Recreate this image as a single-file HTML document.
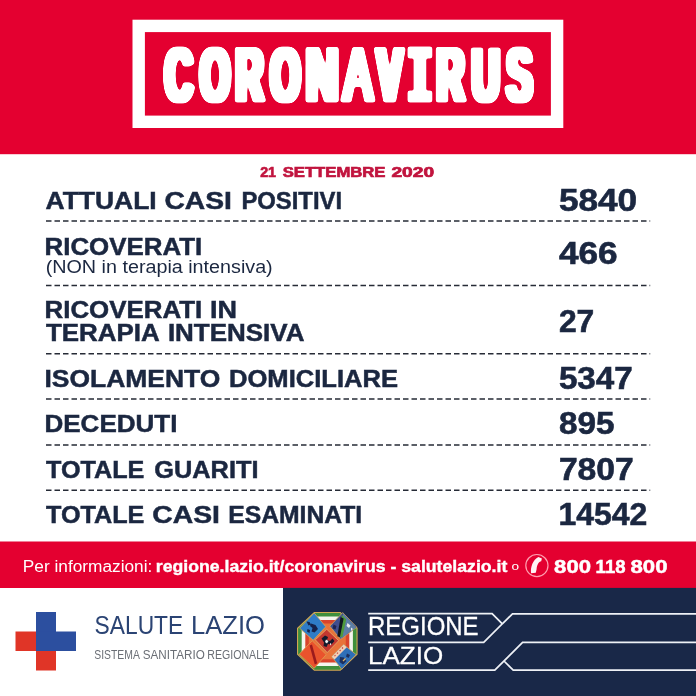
<!DOCTYPE html>
<html lang="it">
<head>
<meta charset="utf-8">
<title>Coronavirus - Regione Lazio - 21 settembre 2020</title>
<style>
html,body{margin:0;padding:0;background:#fff;}
body{width:696px;height:696px;overflow:hidden;position:relative;font-family:"Liberation Sans",sans-serif;}
svg{position:absolute;left:0;top:0;display:block;}
text{font-family:"Liberation Sans",sans-serif;}
.lbl{font-weight:700;fill:#1b2740;font-size:24px;stroke:#1b2740;stroke-width:0.5px;}
.num{font-weight:700;fill:#1b2740;font-size:30.5px;stroke:#1b2740;stroke-width:0.6px;}
.sub{fill:#1b2740;font-size:17.5px;}
.dash{stroke:#262b36;stroke-width:1.5;stroke-dasharray:5.5 3;fill:none;}
.ln{stroke:#eef1f6;stroke-width:1.7;fill:none;stroke-linejoin:miter;}
</style>
</head>
<body>
<svg width="696" height="696" viewBox="0 0 696 696">
  <!-- background -->
  <rect x="0" y="0" width="696" height="696" fill="#ffffff"/>

  <!-- top banner -->
  <defs>
    <filter id="fat" filterUnits="userSpaceOnUse" x="130" y="20" width="440" height="110">
      <feMorphology operator="dilate" radius="3 1" result="d"/>
      <feGaussianBlur in="d" stdDeviation="1.0"/>
      <feComponentTransfer><feFuncA type="linear" slope="5" intercept="-1.2"/></feComponentTransfer>
    </filter>
  </defs>
  <g id="banner">
    <rect x="0" y="0" width="696" height="154.2" fill="#e40030"/>
    <rect x="138.7" y="25.9" width="418.4" height="95.9" fill="none" stroke="#ffffff" stroke-width="12.4"/>
    <g filter="url(#fat)">
      <text transform="scale(0.5,1)" y="101.2" font-size="76.0" font-weight="700" fill="#ffffff" x="330.0 400.5 471.3 541.0 611.8 687.6 754.2 816.2 873.3 944.1 1013.5">CORO<tspan textLength="64.4" lengthAdjust="spacingAndGlyphs">N</tspan><tspan font-weight="400" textLength="56.7" lengthAdjust="spacingAndGlyphs">A</tspan>V<tspan font-family="'Liberation Mono',monospace" font-size="79.4">I</tspan>RUS</text>
    </g>
  </g>

  <!-- date -->
  <text y="177.2" font-size="14.3" font-weight="700" fill="#c1143e" stroke="#c1143e" stroke-width="0.7"><tspan x="260.2" textLength="15.8" lengthAdjust="spacingAndGlyphs">21</tspan> <tspan x="282.7" textLength="102.8" lengthAdjust="spacingAndGlyphs">SETTEMBRE</tspan> <tspan x="391.4" textLength="42.7" lengthAdjust="spacingAndGlyphs">2020</tspan></text>

  <!-- table -->
  <g id="table">
    <text class="lbl" y="208.7"><tspan x="45.6" textLength="111.1" lengthAdjust="spacingAndGlyphs">ATTUALI</tspan> <tspan x="164.4" textLength="67.4" lengthAdjust="spacingAndGlyphs">CASI</tspan> <tspan x="241.4" textLength="100.7" lengthAdjust="spacingAndGlyphs">POSITIVI</tspan></text>
    <text class="num" x="558.9" y="211.0" textLength="78.3" lengthAdjust="spacingAndGlyphs">5840</text>
    <text class="lbl" y="254.5"><tspan x="44.5" textLength="157.7" lengthAdjust="spacingAndGlyphs">RICOVERATI</tspan></text>
    <text class="sub" x="45.7" y="273.3" textLength="227.0" lengthAdjust="spacingAndGlyphs">(NON in terapia intensiva)</text>
    <text class="num" x="558.9" y="264.2" textLength="58.7" lengthAdjust="spacingAndGlyphs">466</text>
    <text class="lbl" y="318.1"><tspan x="44.5" textLength="157.7" lengthAdjust="spacingAndGlyphs">RICOVERATI</tspan> <tspan x="210.1" textLength="27.0" lengthAdjust="spacingAndGlyphs">IN</tspan></text>
    <text class="lbl" y="341.1"><tspan x="46.0" textLength="112.8" lengthAdjust="spacingAndGlyphs">TERAPIA</tspan> <tspan x="167.9" textLength="136.5" lengthAdjust="spacingAndGlyphs">INTENSIVA</tspan></text>
    <text class="num" x="558.9" y="332.3" textLength="35.4" lengthAdjust="spacingAndGlyphs">27</text>
    <text class="lbl" y="386.6"><tspan x="44.5" textLength="175.8" lengthAdjust="spacingAndGlyphs">ISOLAMENTO</tspan> <tspan x="229.0" textLength="169.1" lengthAdjust="spacingAndGlyphs">DOMICILIARE</tspan></text>
    <text class="num" x="558.9" y="388.9" textLength="73.9" lengthAdjust="spacingAndGlyphs">5347</text>
    <text class="lbl" y="432.2"><tspan x="44.5" textLength="132.9" lengthAdjust="spacingAndGlyphs">DECEDUTI</tspan></text>
    <text class="num" x="558.9" y="434.2" textLength="55.5" lengthAdjust="spacingAndGlyphs">895</text>
    <text class="lbl" y="477.6"><tspan x="46.0" textLength="98.4" lengthAdjust="spacingAndGlyphs">TOTALE</tspan> <tspan x="154.3" textLength="104.2" lengthAdjust="spacingAndGlyphs">GUARITI</tspan></text>
    <text class="num" x="558.9" y="479.9" textLength="74.9" lengthAdjust="spacingAndGlyphs">7807</text>
    <text class="lbl" y="523.0"><tspan x="46.0" textLength="98.4" lengthAdjust="spacingAndGlyphs">TOTALE</tspan> <tspan x="152.3" textLength="67.6" lengthAdjust="spacingAndGlyphs">CASI</tspan> <tspan x="228.2" textLength="134.0" lengthAdjust="spacingAndGlyphs">ESAMINATI</tspan></text>
    <text class="num" x="558.4" y="525.3" textLength="88.8" lengthAdjust="spacingAndGlyphs">14542</text>
    <line class="dash" x1="46" y1="221.0" x2="650.2" y2="221.0"/>
    <line class="dash" x1="46" y1="285.5" x2="650.2" y2="285.5"/>
    <line class="dash" x1="46" y1="353.8" x2="650.2" y2="353.8"/>
    <line class="dash" x1="46" y1="399.0" x2="650.2" y2="399.0"/>
    <line class="dash" x1="46" y1="445.0" x2="650.2" y2="445.0"/>
    <line class="dash" x1="46" y1="490.3" x2="650.2" y2="490.3"/>
  </g>

  <!-- info band -->
  <g id="info">
    <rect x="0" y="541.5" width="696" height="46.5" fill="#e40030"/>
    <text x="22.8" y="571.6" font-size="15.6" fill="#ffffff" textLength="129.5" lengthAdjust="spacingAndGlyphs">Per informazioni:</text>
    <text x="155.8" y="571.6" font-size="15.6" font-weight="700" fill="#ffffff" stroke="#ffffff" stroke-width="0.35" textLength="351.5" lengthAdjust="spacingAndGlyphs">regione.lazio.it/coronavirus - salutelazio.it</text>
    <text x="511.6" y="569.9" font-size="11.6" fill="#ffffff" textLength="7.6" lengthAdjust="spacingAndGlyphs">o</text>
    <g id="phone">
      <circle cx="536.900" cy="565.600" r="11.1" fill="none" stroke="#ff9fb0" stroke-width="1.200"/>
      <path d="M538.400 556.900L541.900 558.500L541.200 561.200C538.800 561.400 536.800 565 536.600 569.200L535.800 572.800L531.100 573.300C530.200 567 533 559.500 538.400 556.900Z" fill="#fff3f5"/>
    </g>
    <text y="572.8" font-size="19" font-weight="700" fill="#ffffff" stroke="#ffffff" stroke-width="0.5"><tspan x="554.1" textLength="36.9" lengthAdjust="spacingAndGlyphs">800</tspan> <tspan x="595.6" textLength="29.9" lengthAdjust="spacingAndGlyphs">118</tspan> <tspan x="630.5" textLength="37.0" lengthAdjust="spacingAndGlyphs">800</tspan></text>
  </g>

  <!-- footer left -->
  <g id="salute">
    <rect x="15.5" y="631.5" width="20.6" height="19.5" fill="#e03527"/>
    <rect x="36" y="651" width="20" height="19.5" fill="#e03527"/>
    <rect x="36" y="612" width="20" height="39" fill="#2c4f9f"/>
    <rect x="36" y="631.5" width="40" height="19.5" fill="#2c4f9f"/>
    <text y="633.8" font-size="26.2" fill="#2b4474"><tspan x="94.6" textLength="88.6" lengthAdjust="spacingAndGlyphs">SALUTE</tspan> <tspan x="191" textLength="74" lengthAdjust="spacingAndGlyphs">LAZIO</tspan></text>
    <text y="658.9" font-size="12" fill="#6a6e75"><tspan x="94.3" textLength="45" lengthAdjust="spacingAndGlyphs">SISTEMA</tspan> <tspan x="142.8" textLength="62" lengthAdjust="spacingAndGlyphs">SANITARIO</tspan> <tspan x="207.300" textLength="61.800" lengthAdjust="spacingAndGlyphs">REGIONALE</tspan></text>
  </g>

  <!-- footer right -->
  <g id="regione">
    <rect x="283" y="587.9" width="413" height="108.1" fill="#192848"/>
    <g id="stemma">
      <polygon points="314.1,611.9 340.5,611.9 357.6,628.1 357.6,654.5 340.5,670.7 314.1,670.7 297.0,654.5 297.0,628.1" fill="#d2a750"/>
      <polygon points="314.6,612.9 340.0,612.9 356.5,628.6 356.5,654.0 340.0,669.7 314.6,669.7 298.1,654.0 298.1,628.6" fill="#3f8f3c"/>
      <polygon points="316.1,616.5 338.5,616.5 352.9,630.1 352.9,652.5 338.5,666.1 316.1,666.1 301.7,652.5 301.7,630.1" fill="#f4f4ee"/>
      <polygon points="317.7,620.0 336.9,620.0 349.3,631.7 349.3,650.9 336.9,662.6 317.7,662.6 305.3,650.9 305.3,631.7" fill="#d9442c"/>
      <polygon points="319.2,623.4 335.4,623.4 345.8,633.2 345.8,649.4 335.4,659.2 319.2,659.2 308.8,649.4 308.8,633.2" fill="#e8733a"/>
      <!-- top-left shield -->
      <polygon points="299.6,628.2 314.2,613 325.8,626.7 313.2,640.3" fill="#2f7cc6" stroke="#d6a85a" stroke-width="0.8"/>
      <path d="M306.500 621.500l3 .5l1.500 2.500l-2.500 1zM311 623.500l4.500 1.500l2.500 4l-3.500 3.500l-3-1l1-3.500l-2.500-2zM307.500 629l2.500 1l-.5 3l-2.500-1.500z" fill="#16224a"/>
      <!-- top-right shield -->
      <polygon points="329.800,626.200 342.700,612.600 356.800,627.200 340.600,639.300" fill="#414e8e" stroke="#d6a85a" stroke-width="0.8"/>
      <polygon points="343.200,613.600 356,627.200 341.200,638.400 340,636" fill="#5d7fa6"/>
      <polygon points="341.800,614.800 346.200,619.500 342.400,637.200 339.600,636.600" fill="#4f9a3c"/>
      <polygon points="340.600,617 343.600,618.500 339.900,637.300 337.300,636.300" fill="#101820"/>
      <path d="M347.500 623l3 2.500l-1.500 2.500l-2.500-2zM351 627.500l2 1.500l-2 2z" fill="#e9ecef"/>
      <path d="M333.500 624.500l3 1.500l-1 3.500l-3-1z" fill="#1e2554"/>
      <!-- bottom-left shield -->
      <polygon points="299.200,654.200 312.200,640.700 326.200,654.600 314.200,668.300" fill="#ea532d" stroke="#e0a050" stroke-width="0.8"/>
      <polygon points="309.600,645.600 312,644.600 317.200,663.200 314.800,664.400" fill="#9c1a1c"/>
      <!-- bottom-right shield -->
      <polygon points="331.800,656.700 343.700,644.600 356.200,654.600 341.700,669.300" fill="#2e6fb8" stroke="#d6a85a" stroke-width="0.8"/>
      <polygon points="331.800,656.700 343.700,644.600 346.800,647.200 334.600,659.600" fill="#f2cfb4"/>
      <path d="M334.500 656.200l1-1M337 653.600l1-1M339.600 651l1-1M342 648.500l1-1" stroke="#c9423a" stroke-width="1.100"/>
      <path d="M340 657l4 .5l2.500 3.500l-3.500 3.500l-3.500-2.500zM347 653.500l3 1.500l-1.500 3l-2.500-1.500z" fill="#1b2f5e"/>
      <path d="M343 661l2.500-2.500" stroke="#d9b468" stroke-width="1.200"/>
      <!-- centre shield -->
      <polygon points="315.300,639.800 326.700,629.200 338.700,640.700 327.200,652.600" fill="#c4382f" stroke="#e2b070" stroke-width="0.8"/>
      <path d="M321.500 638.500l3.500-3l3 1.500l-1 3l3 1l2.500-2.500l2 2.500l-3 3.500l-3.500-.5l-1.500 3l-3-1l.5-3.500z" fill="#141a2c"/>
      <path d="M326 639.500l2.500 1.500l-1.500 2.500l-2-1.500zM330 643l1.500 1l-1.500 1.500z" fill="#f3f3f3"/>
    </g>
    <text x="368" y="635.2" font-size="25" fill="#ffffff" stroke="#ffffff" stroke-width="0.3" textLength="110.6" lengthAdjust="spacingAndGlyphs">REGIONE</text>
    <text x="368" y="664.4" font-size="24.6" fill="#ffffff" stroke="#ffffff" stroke-width="0.3" textLength="75.2" lengthAdjust="spacingAndGlyphs">LAZIO</text>
    <path class="ln" d="M368.2 613.600H492.100L502.300 623.800L483.700 642.400H368.200M502.300 623.800L512.500 613.800H696"/>
    <path class="ln" d="M368.200 670.200H494.800L522.600 642.400H696M504 661L513.200 670.200H696"/>
  </g>
</svg>
</body>
</html>
